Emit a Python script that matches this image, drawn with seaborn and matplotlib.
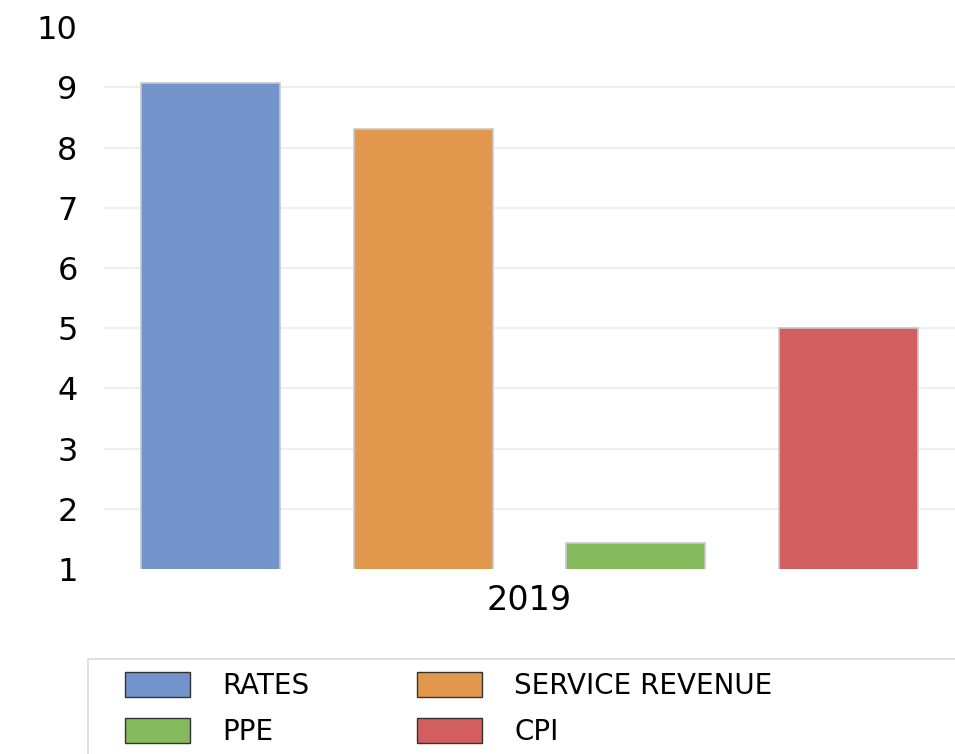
import seaborn as sns
import matplotlib.pyplot as plt
import pandas as pd

# values
years = ['2019', '2019', '2019', '2019']
series = ['RATES', 'SERVICE REVENUE', 'PPE', 'CPI']
values = [9.07, 8.31, 1.43, 5.0]
colors = ['#7294cb', '#e1974c', '#84ba5b', '#d35e60']
yticks = [1, 2, 3, 4, 5, 6, 7, 8, 9, 10]

df = pd.DataFrame({'Year': years, 'Series': series, 'Value': values})

sns.set_style('white')
plt.rcParams['font.family'] = ['DejaVu Sans']
plt.rcParams['text.color'] = 'black'

fig = plt.figure(figsize=(9.55, 7.54), dpi=100)
ax = fig.add_axes([0.109, 0.2454, 0.891, 0.7186])

sns.barplot(data=df, x='Year', y='Value', hue='Series', palette=colors,
            width=1.0, gap=0.347, saturation=1, edgecolor='#c8c8c8', linewidth=1.2,
            errorbar=None, legend=False, ax=ax)

ax.set_ylim(1, 10)
ax.set_yticks(yticks)
ax.yaxis.grid(True, color='#ebebeb', linewidth=1.2)
gl = ax.get_ygridlines()
gl[0].set_visible(False)
gl[-1].set_visible(False)
ax.set_axisbelow(True)
for s in ax.spines.values():
    s.set_visible(False)
ax.tick_params(axis='y', length=0, pad=19, labelsize=23, labelcolor='black')
ax.tick_params(axis='x', length=0, pad=11, labelsize=24, labelcolor='black')
ax.set_xlabel('')
ax.set_ylabel('')

# legend box (frame only), partly cut off by the figure edge like the reference
fig.patches.append(plt.Rectangle((0.092, -0.05), 1.0, 0.176, transform=fig.transFigure,
                                 facecolor='white', edgecolor='#d9d9d9', linewidth=1.2,
                                 zorder=0))

order = [0, 2, 1, 3]
handles = [plt.Rectangle((0, 0), 1, 1, facecolor=colors[i], edgecolor='#333333', linewidth=1)
           for i in order]
labels = [series[i] for i in order]
leg = fig.legend(handles, labels, loc='upper left', bbox_to_anchor=(0.1309, 0.1088),
                 ncol=2, fontsize=20, frameon=False, borderpad=0, borderaxespad=0,
                 handlelength=2.34, handleheight=1.0, handletextpad=1.15,
                 columnspacing=3.9, labelspacing=0.65)

fig.savefig('out.png', dpi=100)
